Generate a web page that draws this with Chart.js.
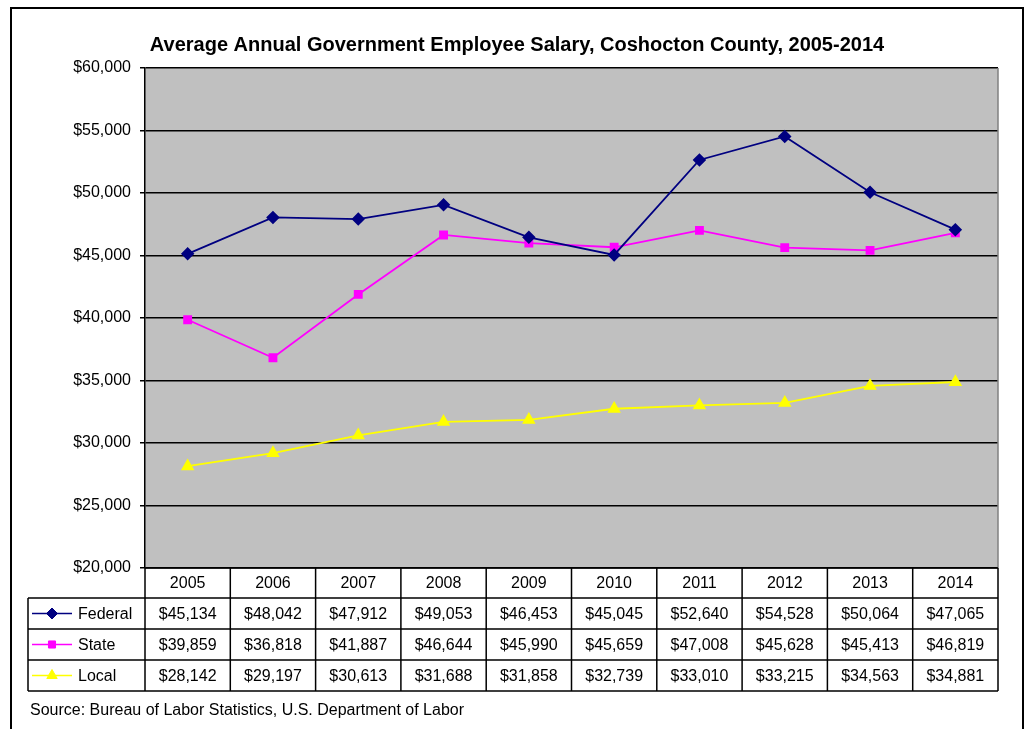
<!DOCTYPE html>
<html>
<head>
<meta charset="utf-8">
<title>Average Annual Government Employee Salary, Coshocton County</title>
<script src="https://cdn.jsdelivr.net/npm/chart.js@4"></script>
<style>
  html, body { margin: 0; padding: 0; background: #fff; }
  #wrap { width: 1028px; height: 729px; position: relative; }
</style>
</head>
<body>
<div id="wrap"><canvas id="chart" width="1028" height="729"></canvas></div>
<script>
// data
const years = ["2005", "2006", "2007", "2008", "2009", "2010", "2011", "2012", "2013", "2014"];
const federal = [45134, 48042, 47912, 49053, 46453, 45045, 52640, 54528, 50064, 47065];
const state = [39859, 36818, 41887, 46644, 45990, 45659, 47008, 45628, 45413, 46819];
const local = [28142, 29197, 30613, 31688, 31858, 32739, 33010, 33215, 34563, 34881];
const yTicks = [20000, 25000, 30000, 35000, 40000, 45000, 50000, 55000, 60000];

const FONT = "Arial, 'Liberation Sans', sans-serif";
const money = (v) => "$" + v.toLocaleString("en-US");

// plot background, outer frame, data table and source note
const excelLook = {
  id: "excelLook",
  beforeDraw(chart) {
    const { ctx, chartArea: a } = chart;
    ctx.save();
    ctx.fillStyle = "#c0c0c0";
    ctx.fillRect(a.left, a.top, a.right - a.left, a.bottom - a.top);
    ctx.restore();
  },
  afterDraw(chart) {
    const { ctx, chartArea: a } = chart;
    const x = chart.scales.x;
    const half = (a.right - a.left) / years.length / 2;
    const rowTop = [a.bottom, a.bottom + 30, a.bottom + 61, a.bottom + 92];
    const rowBottom = a.bottom + 123;
    const legendLeft = 28;

    ctx.save();
    // right border of plot area
    ctx.strokeStyle = "#808080";
    ctx.lineWidth = 1.5;
    ctx.beginPath();
    ctx.moveTo(a.right, a.top);
    ctx.lineTo(a.right, a.bottom);
    ctx.stroke();

    // table grid
    ctx.strokeStyle = "#000";
    ctx.lineWidth = 1.5;
    ctx.beginPath();
    ctx.moveTo(a.left, rowTop[0]);
    ctx.lineTo(a.right, rowTop[0]);
    for (let r = 1; r < rowTop.length; r++) {
      ctx.moveTo(legendLeft, rowTop[r]);
      ctx.lineTo(a.right, rowTop[r]);
    }
    ctx.moveTo(legendLeft, rowBottom);
    ctx.lineTo(a.right, rowBottom);
    ctx.moveTo(legendLeft, rowTop[1]);
    ctx.lineTo(legendLeft, rowBottom);
    for (let i = 0; i < years.length; i++) {
      const edge = x.getPixelForValue(i) - half;
      ctx.moveTo(edge, rowTop[0]);
      ctx.lineTo(edge, rowBottom);
    }
    ctx.moveTo(a.right, rowTop[0]);
    ctx.lineTo(a.right, rowBottom);
    ctx.stroke();

    // table text
    ctx.fillStyle = "#000";
    ctx.font = "16px " + FONT;
    ctx.textAlign = "center";
    ctx.textBaseline = "middle";
    years.forEach((y, i) => {
      ctx.fillText(y, x.getPixelForValue(i), (rowTop[0] + rowTop[1]) / 2 + 1);
    });
    chart.data.datasets.forEach((ds, r) => {
      const top = rowTop[r + 1];
      const bottom = r + 2 < rowTop.length ? rowTop[r + 2] : rowBottom;
      const cy = (top + bottom) / 2 + 1;
      ctx.fillStyle = "#000";
      ctx.textAlign = "center";
      ds.data.forEach((v, i) => ctx.fillText(money(v), x.getPixelForValue(i), cy));

      // legend key
      const ly = (top + bottom) / 2;
      ctx.strokeStyle = ds.borderColor;
      ctx.lineWidth = 1.5;
      ctx.beginPath();
      ctx.moveTo(32, ly);
      ctx.lineTo(72, ly);
      ctx.stroke();
      ctx.fillStyle = ds.pointBackgroundColor;
      ctx.strokeStyle = ds.pointBorderColor;
      ctx.lineWidth = 1;
      Chart.helpers.drawPoint(ctx, {
        pointStyle: ds.pointStyle,
        radius: ds.pointRadius,
        rotation: 0,
        borderWidth: 1
      }, 52, ly);
      ctx.fillStyle = "#000";
      ctx.textAlign = "left";
      ctx.fillText(ds.label, 78, cy);
    });

    // source note
    ctx.font = "16px " + FONT;
    ctx.textAlign = "left";
    ctx.fillText("Source: Bureau of Labor Statistics, U.S. Department of Labor", 30, 711);

    // outer frame
    ctx.strokeStyle = "#000";
    ctx.lineWidth = 2;
    ctx.strokeRect(11, 8, 1012, 740);
    ctx.restore();
  }
};

const ctx = document.getElementById("chart").getContext("2d");
new Chart(ctx, {
  type: "line",
  data: {
    labels: years,
    datasets: [
      {
        label: "Federal",
        data: federal,
        borderColor: "#000080",
        backgroundColor: "#000080",
        pointBackgroundColor: "#000080",
        pointBorderColor: "#000080",
        pointStyle: "rectRot",
        pointRadius: 5.5,
        borderWidth: 1.8
      },
      {
        label: "State",
        data: state,
        borderColor: "#ff00ff",
        backgroundColor: "#ff00ff",
        pointBackgroundColor: "#ff00ff",
        pointBorderColor: "#ff00ff",
        pointStyle: "rect",
        pointRadius: 5,
        borderWidth: 1.8
      },
      {
        label: "Local",
        data: local,
        borderColor: "#ffff00",
        backgroundColor: "#ffff00",
        pointBackgroundColor: "#ffff00",
        pointBorderColor: "#ffff00",
        pointStyle: "triangle",
        pointRadius: 6,
        borderWidth: 1.8
      }
    ]
  },
  options: {
    responsive: false,
    animation: false,
    layout: { padding: { left: 36, top: 8, right: 30, bottom: 161 } },
    plugins: {
      legend: { display: false },
      tooltip: { enabled: false },
      title: {
        display: true,
        text: "Average Annual Government Employee Salary, Coshocton County, 2005-2014",
        color: "#000",
        font: { family: FONT, size: 20, weight: "bold" },
        padding: { top: 25, bottom: 11 }
      }
    },
    scales: {
      x: { display: false, offset: true },
      y: {
        min: 20000,
        max: 60000,
        afterFit: (scale) => { scale.width = 109; },
        afterBuildTicks: (scale) => { scale.ticks = yTicks.map((v) => ({ value: v })); },
        ticks: {
          color: "#000",
          font: { family: FONT, size: 16 },
          padding: 9,
          callback: (v) => money(v)
        },
        grid: { color: "#000", lineWidth: 1.5, tickLength: 5, tickColor: "#000" },
        border: { color: "#000", width: 1.5 }
      }
    }
  },
  plugins: [excelLook]
});
</script>
</body>
</html>
